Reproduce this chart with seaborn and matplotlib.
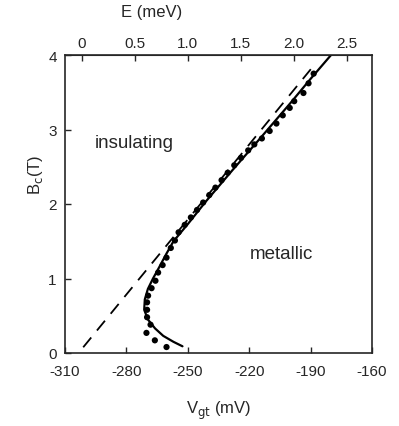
import matplotlib
matplotlib.use("Agg")
import matplotlib.pyplot as plt
import seaborn as sns
import pandas as pd

sns.set_style("ticks")
plt.rcParams['font.family'] = ['Liberation Sans', 'DejaVu Sans']
plt.rcParams['xtick.direction'] = 'in'
plt.rcParams['ytick.direction'] = 'in'
plt.rcParams['axes.unicode_minus'] = False

# measured critical field points
dot_v = [-260.4, -266.1, -270.2, -268.2, -269.9, -269.9, -269.9, -269.4, -267.7, -265.8,
         -264.5, -262.3, -260.4, -258.3, -256.3, -254.5, -251.5, -248.5, -245.5, -242.5,
         -239.5, -236.5, -233.5, -230.5, -227.3, -224.0, -220.5, -217.5, -213.8, -210.0,
         -206.7, -203.6, -200.2, -198.0, -193.5, -191.0, -188.5]
dot_b = [0.08, 0.17, 0.27, 0.38, 0.48, 0.58, 0.68, 0.77, 0.87, 0.97,
         1.08, 1.18, 1.28, 1.41, 1.51, 1.62, 1.72, 1.82, 1.92, 2.02,
         2.12, 2.22, 2.32, 2.42, 2.52, 2.62, 2.72, 2.80, 2.88, 2.98,
         3.08, 3.19, 3.29, 3.38, 3.49, 3.62, 3.75]

# solid fit curve
fit_v = [-252.6, -257.0, -262.0, -266.0, -269.5, -271.3, -271.0, -269.5, -267.0, -264.0,
         -260.5, -257.0, -250.0, -241.0, -228.0, -215.0, -200.0, -190.0, -180.0]
fit_b = [0.09, 0.15, 0.23, 0.33, 0.45, 0.58, 0.72, 0.86, 1.00, 1.15,
         1.33, 1.50, 1.73, 2.04, 2.46, 2.87, 3.35, 3.68, 4.00]

# dashed linear line
lin_v = [-301.1, -187.2]
lin_b = [0.077, 3.90]

e_ticks = [0, 0.5, 1.0, 1.5, 2.0, 2.5]
e_labels = ["0", "0.5", "1.0", "1.5", "2.0", "2.5"]

fig = plt.figure(figsize=(3.99, 4.27), dpi=100)
ax = fig.add_axes([65/399, 73/427, 307/399, 298/427])

fit = pd.DataFrame({"V": fit_v, "B": fit_b})
lin = pd.DataFrame({"V": lin_v, "B": lin_b})
pts = pd.DataFrame({"V": dot_v, "B": dot_b})

sns.lineplot(data=fit, x="V", y="B", sort=False, estimator=None, errorbar=None,
             color="black", lw=1.6, ax=ax)
ax.plot(lin["V"], lin["B"], color="black", lw=1.3, dashes=(7, 5))
sns.scatterplot(data=pts, x="V", y="B", color="black", s=20, edgecolor="none", ax=ax)

ax.set_xlim(-310, -160)
ax.set_ylim(0, 4)
ax.set_xticks([-310, -280, -250, -220, -190, -160])
ax.set_yticks([0, 1, 2, 3, 4])
ax.tick_params(labelsize=11, length=4, width=1, top=False, right=False)
ax.tick_params(axis='x', pad=8)
ax.tick_params(axis='y', pad=6)
for s in ax.spines.values():
    s.set_linewidth(1.2)

ax.set_xlabel("V$_{\\rm gt}$ (mV)", fontsize=12, labelpad=15)
ax.set_ylabel("B$_{\\rm c}$(T)", fontsize=12)
ax.yaxis.set_label_coords(-0.065, 0.6)

def v2e(v):
    return (v + 301.7) / 51.7

def e2v(e):
    return e * 51.7 - 301.7

top = ax.secondary_xaxis('top', functions=(v2e, e2v))
top.set_xticks(e_ticks)
top.set_xticklabels(e_labels)
top.tick_params(direction='in', labelsize=11, length=4, width=1)
# top axis title sits left of centre in the original
fig.text(151.5/399, 1 - 12/427, "E (meV)", fontsize=12, ha="center", va="center")

ax.text(-295.5, 2.83, "insulating", fontsize=13.5, va="center", ha="left")
ax.text(-219.5, 1.34, "metallic", fontsize=13.5, va="center", ha="left")

fig.savefig("out.png", dpi=100)
